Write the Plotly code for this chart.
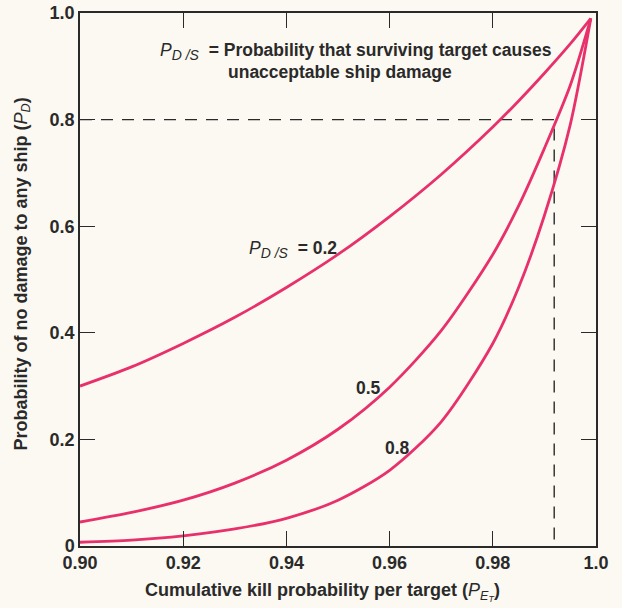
import plotly.graph_objects as go

# Data
x_vals = [0.90, 0.91, 0.92, 0.93, 0.94, 0.95, 0.96, 0.97, 0.98, 0.985, 0.99, 0.995, 0.999]
pd_02 = [0.300, 0.336, 0.380, 0.429, 0.485, 0.547, 0.618, 0.697, 0.786, 0.835, 0.887, 0.942, 0.990]
pd_05 = [0.045, 0.063, 0.086, 0.118, 0.161, 0.219, 0.298, 0.404, 0.547, 0.638, 0.746, 0.864, 0.990]
pd_08 = [0.007, 0.011, 0.019, 0.032, 0.052, 0.086, 0.142, 0.233, 0.380, 0.485, 0.620, 0.790, 0.990]

ref_x = [0.90, 0.9919, 0.9919]
ref_y = [0.80, 0.80, 0.0]

x_ticks = [0.90, 0.92, 0.94, 0.96, 0.98, 1.0]
x_ticktext = ["0.90", "0.92", "0.94", "0.96", "0.98", "1.0"]
y_ticks = [0, 0.2, 0.4, 0.6, 0.8, 1.0]
y_ticktext = ["0", "0.2", "0.4", "0.6", "0.8", "1.0"]

PINK = "#E8306C"
INK = "#2a2a2a"
BG = "#FBF9F1"
FONT = "Liberation Sans, Arial, sans-serif"

fig = go.Figure()
fig.add_trace(go.Scatter(x=ref_x, y=ref_y, mode="lines",
                         line=dict(color=INK, width=1.4, dash="12px,9px"),
                         hoverinfo="skip", showlegend=False))
for ys in (pd_02, pd_05, pd_08):
    fig.add_trace(go.Scatter(x=x_vals, y=ys, mode="lines",
                             line=dict(color=PINK, width=2.8, shape="spline", smoothing=0.8),
                             showlegend=False))

axis_common = dict(showline=True, linecolor=INK, linewidth=1.5, mirror="ticks",
                   ticks="inside", ticklen=15, tickwidth=1.3, tickcolor=INK,
                   showgrid=False, zeroline=False, automargin=False,
                   tickfont=dict(family=FONT, size=18, color=INK, weight="bold"))

fig.update_xaxes(range=[0.90, 1.0], tickvals=x_ticks, ticktext=x_ticktext, **axis_common)
fig.update_yaxes(range=[0, 1.0], tickvals=y_ticks, ticktext=y_ticktext, **axis_common)

PDS = "<i>P</i><sub><span style='font-size:14px'><i>D /S</i></span></sub>"
ann_font = dict(family=FONT, size=17.5, color=INK)
annotations = [
    dict(x=0.9152, y=0.927, xanchor="left", yanchor="middle",
         text=PDS + "  <b>= Probability that surviving target causes</b>"),
    dict(x=0.9282, y=0.889, xanchor="left", yanchor="middle",
         text="<b>unacceptable ship damage</b>"),
    dict(x=0.9324, y=0.556, xanchor="left", yanchor="middle",
         text=PDS + "  <b>= 0.2</b>"),
    dict(x=0.9559, y=0.297, xanchor="center", yanchor="middle", text="<b>0.5</b>"),
    dict(x=0.9616, y=0.183, xanchor="center", yanchor="middle", text="<b>0.8</b>"),
]
for a in annotations:
    fig.add_annotation(xref="x", yref="y", showarrow=False, font=ann_font, **a)

fig.add_annotation(xref="paper", yref="paper", x=0.5, y=0, yshift=-46, xshift=-16,
                   xanchor="center", yanchor="middle", showarrow=False,
                   font=dict(family=FONT, size=18, color=INK),
                   text="<b>Cumulative kill probability per target (</b><i>P</i><sub><i>E</i><sub><i>T</i></sub></sub><b>)</b>")
fig.add_annotation(xref="paper", yref="paper", x=0, y=0.5, xshift=-58, yshift=5,
                   xanchor="center", yanchor="middle", showarrow=False, textangle=-90,
                   font=dict(family=FONT, size=18, color=INK),
                   text="<b>Probability of no damage to any ship (</b><i>P</i><sub><i>D</i></sub><b>)</b>")

fig.update_layout(width=622, height=608, margin=dict(l=80, r=26, t=13, b=62),
                  paper_bgcolor=BG, plot_bgcolor=BG, showlegend=False)

fig.write_html("out.html", config={"displayModeBar": False},
               post_script="document.body.style.margin='0';")
